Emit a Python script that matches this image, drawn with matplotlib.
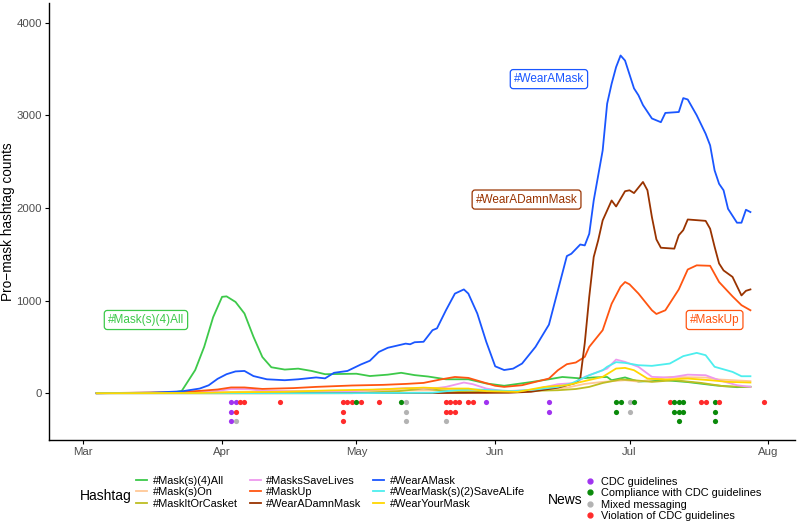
import matplotlib
matplotlib.use("Agg")
import matplotlib.pyplot as plt
import matplotlib.dates as mdates
from matplotlib.lines import Line2D
import pandas as pd

plt.rcParams["font.family"] = ["Liberation Sans", "DejaVu Sans"]

# ---- hashtag series (date "MM-DD", count) ----
mask4all_d = ["03-04", "03-21", "03-23", "03-26", "03-28", "03-30", "04-01", "04-02", "04-04", "04-06",
              "04-08", "04-10", "04-12", "04-15", "04-18", "04-21", "04-24", "05-01", "05-04", "05-08",
              "05-11", "05-14", "05-17", "05-21", "05-26", "05-30", "06-03", "06-09", "06-13", "06-16",
              "06-20", "06-23", "06-26", "06-27", "06-30", "07-03", "07-09", "07-14", "07-20", "07-25", "07-28"]
mask4all_v = [0, 5, 25, 250, 500, 820, 1040, 1045, 985, 860,
              610, 390, 280, 255, 265, 240, 205, 210, 185, 200,
              220, 195, 180, 150, 150, 105, 80, 120, 150, 175,
              160, 170, 175, 140, 170, 125, 140, 120, 85, 65, 70]

maskson_d = ["03-04", "03-31", "04-10", "04-30", "05-15", "05-25", "06-01", "06-09", "06-17", "06-21",
             "06-25", "06-30", "07-03", "07-10", "07-18", "07-21", "07-28"]
maskson_v = [0, 10, 20, 25, 30, 35, 20, 30, 60, 100, 122, 140, 125, 176, 169, 148, 130]

casket_d = ["03-04", "04-30", "05-10", "05-16", "05-20", "05-30", "06-09", "06-15", "06-19", "06-22",
            "06-25", "06-29", "07-02", "07-06", "07-11", "07-17", "07-22", "07-28"]
casket_v = [0, 0, 20, 50, 30, 10, 25, 32, 45, 68, 110, 148, 140, 122, 140, 111, 75, 68]

savelives_d = ["03-04", "03-26", "03-31", "04-03", "04-07", "04-10", "04-20", "04-30", "05-06", "05-12",
               "05-18", "05-21", "05-25", "05-27", "05-30", "06-03", "06-09", "06-15", "06-19", "06-21",
               "06-26", "06-28", "06-30", "07-03", "07-06", "07-10", "07-14", "07-18", "07-21", "07-25", "07-28"]
savelives_v = [0, 5, 25, 45, 45, 25, 18, 20, 40, 55,
               50, 68, 115, 97, 50, 22, 32, 97, 111, 176,
               266, 363, 338, 284, 176, 169, 200, 194, 140, 86, 68]

maskup_d = ["03-04", "03-21", "03-27", "03-31", "04-03", "04-06", "04-10", "04-17", "04-22", "04-30",
            "05-07", "05-12", "05-16", "05-20", "05-23", "05-26", "05-29", "06-01", "06-03", "06-07",
            "06-10", "06-13", "06-15", "06-17", "06-19", "06-21", "06-22", "06-25", "06-27", "06-29",
            "06-30", "07-01", "07-03", "07-06", "07-07", "07-09", "07-12", "07-14", "07-16", "07-19",
            "07-21", "07-24", "07-26", "07-28"]
maskup_v = [0, 10, 25, 40, 62, 62, 46, 55, 68, 83,
            90, 100, 111, 150, 175, 165, 122, 80, 68, 86,
            122, 158, 248, 313, 331, 392, 500, 680, 965, 1150,
            1200, 1175, 1075, 895, 855, 895, 1120, 1335, 1380, 1375,
            1200, 1045, 950, 895]

damn_d = ["03-04", "04-10", "05-20", "06-04", "06-09", "06-15", "06-19", "06-20", "06-21", "06-22",
          "06-23", "06-24", "06-25", "06-27", "06-28", "06-30", "07-01", "07-02", "07-04", "07-05",
          "07-06", "07-07", "07-08", "07-11", "07-12", "07-13", "07-14", "07-18", "07-19", "07-20",
          "07-21", "07-22", "07-24", "07-26", "07-27", "07-28"]
damn_v = [0, 0, 2, 5, 15, 60, 110, 160, 540, 1040,
          1470, 1650, 1865, 2080, 2015, 2180, 2190, 2160, 2280, 2190,
          1900, 1660, 1570, 1560, 1705, 1760, 1875, 1860, 1775, 1580,
          1400, 1325, 1255, 1055, 1105, 1120]

wearamask_d = ["03-04", "03-16", "03-23", "03-27", "03-29", "03-31", "04-02", "04-04", "04-06", "04-08",
               "04-11", "04-15", "04-18", "04-22", "04-24", "04-26", "04-29", "05-02", "05-04", "05-06",
               "05-08", "05-12", "05-13", "05-14", "05-16", "05-18", "05-19", "05-21", "05-23", "05-25",
               "05-26", "05-28", "05-30", "06-01", "06-03", "06-05", "06-07", "06-10", "06-13", "06-15",
               "06-17", "06-18", "06-20", "06-21", "06-22", "06-23", "06-25", "06-26", "06-27", "06-28",
               "06-29", "06-30", "07-02", "07-03", "07-04", "07-06", "07-08", "07-09", "07-12", "07-13",
               "07-14", "07-16", "07-18", "07-19", "07-20", "07-21", "07-22", "07-23", "07-25", "07-26",
               "07-27", "07-28"]
wearamask_v = [0, 5, 20, 50, 85, 155, 205, 235, 240, 185,
               150, 140, 150, 170, 160, 220, 240, 310, 350, 445,
               490, 535, 528, 550, 555, 680, 700, 895, 1075, 1120,
               1075, 860, 555, 290, 250, 265, 320, 500, 740, 1110,
               1480, 1505, 1605, 1595, 1720, 2080, 2620, 3125, 3340, 3520,
               3645, 3590, 3290, 3215, 3110, 2965, 2925, 3025, 3035, 3185,
               3170, 3000, 2800, 2675, 2405, 2260, 2190, 1990, 1840, 1840,
               1980, 1955]

savealife_d = ["03-04", "04-30", "05-18", "05-23", "05-28", "06-05", "06-10", "06-15", "06-18", "06-22",
               "06-25", "06-26", "06-28", "06-30", "07-03", "07-06", "07-10", "07-13", "07-16", "07-18",
               "07-20", "07-24", "07-26", "07-28"]
savealife_v = [0, 0, 5, 32, 40, 22, 40, 68, 105, 194,
               248, 285, 335, 327, 302, 295, 320, 400, 435, 410,
               285, 230, 183, 183]

yourmask_d = ["03-04", "03-26", "04-03", "04-15", "04-25", "05-06", "05-16", "05-21", "05-26", "05-30",
              "06-06", "06-12", "06-17", "06-20", "06-25", "06-28", "06-30", "07-02", "07-05", "07-09",
              "07-14", "07-19", "07-23", "07-28"]
yourmask_v = [0, 2, 10, 15, 30, 40, 60, 50, 50, 22,
              14, 68, 86, 120, 176, 266, 273, 248, 158, 148,
              158, 140, 122, 115]

hashtags = ["#Mask(s)(4)All", "#Mask(s)On", "#MaskItOrCasket", "#MasksSaveLives", "#MaskUp",
            "#WearADamnMask", "#WearAMask", "#WearMask(s)(2)SaveALife", "#WearYourMask"]
hashtag_colors = ["#3DC94A", "#FFC896", "#BDBD22", "#EE99EE", "#FF5511",
                  "#993300", "#1A56FF", "#4DEEEE", "#FFD700"]
series = [(mask4all_d, mask4all_v), (maskson_d, maskson_v), (casket_d, casket_v),
          (savelives_d, savelives_v), (maskup_d, maskup_v), (damn_d, damn_v),
          (wearamask_d, wearamask_v), (savealife_d, savealife_v), (yourmask_d, yourmask_v)]

# ---- news events (date, category), stacked per date in this order ----
news_dates = ["04-03", "04-03", "04-03", "04-04", "04-04", "04-04", "04-05", "04-06", "04-14",
              "04-28", "04-28", "04-28", "04-29", "04-30", "05-01", "05-02", "05-06", "05-11",
              "05-12", "05-12", "05-12", "05-21", "05-21", "05-21", "05-22", "05-22", "05-23", "05-23",
              "05-24", "05-26", "05-27", "05-30", "06-13", "06-13", "06-28", "06-28", "06-29",
              "07-01", "07-01", "07-02", "07-10", "07-11", "07-11", "07-12", "07-12", "07-12",
              "07-13", "07-13", "07-17", "07-18", "07-20", "07-20", "07-20", "07-21", "07-31"]
news_cats = ["C", "C", "C", "C", "V", "M", "V", "V", "V",
             "V", "V", "V", "V", "V", "P", "V", "V", "P",
             "M", "M", "M", "V", "V", "M", "V", "V", "V", "V",
             "V", "V", "V", "C", "C", "C", "P", "P", "P",
             "M", "M", "P", "V", "P", "P", "P", "P", "P",
             "P", "P", "V", "V", "P", "P", "P", "V", "V"]
news_labels = {"C": "CDC guidelines", "P": "Compliance with CDC guidelines",
               "M": "Mixed messaging", "V": "Violation of CDC guidelines"}
news_colors = {"C": "#A033F0", "P": "#0A8A0A", "M": "#B3B3B3", "V": "#FF2B2B"}

# ---- direct labels ----
label_text = ["#WearAMask", "#WearADamnMask", "#Mask(s)(4)All", "#MaskUp"]
label_date = ["06-13", "06-08", "03-15", "07-20"]
label_val = [3390, 2090, 790, 790]


def to_dates(lst):
    return pd.to_datetime(["2020-" + s for s in lst])


fig = plt.figure(figsize=(8, 5.24), dpi=100)
ax = fig.add_axes([0.061, 0.160, 0.933, 0.834])

for name, col, (d, v) in zip(hashtags, hashtag_colors, series):
    ax.plot(to_dates(d), v, color=col, lw=1.3, solid_joinstyle="round")

# stacked news dots
counts = {}
for d, c in zip(news_dates, news_cats):
    k = counts.get(d, 0) + 1
    counts[d] = k
    ax.scatter(to_dates([d]), [-100 * k], s=14, color=news_colors[c], lw=0, zorder=3)

for t, d, v in zip(label_text, label_date, label_val):
    col = hashtag_colors[hashtags.index(t)]
    ax.text(to_dates([d])[0], v, t, color=col, fontsize=8.5, ha="center", va="center",
            bbox=dict(boxstyle="round,pad=0.3,rounding_size=0.25", fc="white", ec=col, lw=0.9))

ax.set_xlim(pd.Timestamp("2020-03-01") - pd.Timedelta(days=7.7),
            pd.Timestamp("2020-03-01") + pd.Timedelta(days=159))
ax.set_ylim(-507, 4210)
ax.xaxis.set_major_locator(mdates.MonthLocator())
ax.xaxis.set_major_formatter(mdates.DateFormatter("%b"))
ax.set_yticks([0, 1000, 2000, 3000, 4000])
ax.tick_params(colors="#4D4D4D", labelsize=8.2, length=3, pad=2)
ax.tick_params(axis="both", color="black")
for s in ["top", "right"]:
    ax.spines[s].set_visible(False)
for s in ["left", "bottom"]:
    ax.spines[s].set_linewidth(1.0)
ax.set_ylabel("Pro\u2212mask hashtag counts", fontsize=9.8, va="center")
ax.yaxis.set_label_coords(-0.054, 0.5)

# legends
fig.text(80 / 800, 1 - 496 / 524, "Hashtag", fontsize=10, va="center", ha="left")
h_handles = [Line2D([], [], color=c, lw=1.3) for c in hashtag_colors]
fig.legend(h_handles, hashtags, loc="upper left", bbox_to_anchor=(136 / 800, 1 - 476 / 524),
           ncol=3, frameon=False, fontsize=7.9, handlelength=1.0, handletextpad=0.5,
           columnspacing=1.1, labelspacing=0.12, borderpad=0, borderaxespad=0)

fig.text(548 / 800, 1 - 500 / 524, "News", fontsize=10, va="center", ha="left")
n_handles = [Line2D([], [], marker="o", ls="", color=news_colors[k], markersize=3.5) for k in "CPMV"]
fig.legend(n_handles, [news_labels[k] for k in "CPMV"], loc="upper left",
           bbox_to_anchor=(585 / 800, 1 - 477 / 524), frameon=False, fontsize=7.9,
           handlelength=1.0, handletextpad=0.5, labelspacing=0.12, borderpad=0, borderaxespad=0)

fig.savefig("out.png", dpi=100)
